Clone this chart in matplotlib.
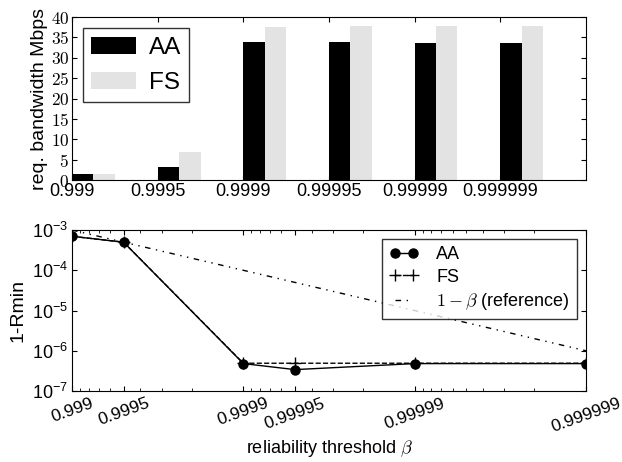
import numpy as np
import matplotlib
matplotlib.use('Agg')
import matplotlib.pyplot as plt
from matplotlib.ticker import FuncFormatter

plt.rcParams['font.family'] = ['Liberation Sans', 'DejaVu Sans']
plt.rcParams['mathtext.fontset'] = 'cm'
plt.rcParams['xtick.direction'] = 'in'
plt.rcParams['ytick.direction'] = 'in'
plt.rcParams['xtick.top'] = True
plt.rcParams['ytick.right'] = True

# data
beta_labels = ['0.999', '0.9995', '0.9999', '0.99995', '0.99999', '0.999999']
beta = [0.999, 0.9995, 0.9999, 0.99995, 0.99999, 0.999999]
bw_aa = [1.5, 3.3, 34.0, 33.8, 33.6, 33.6]
bw_fs = [1.5, 6.8, 37.5, 37.7, 37.7, 37.7]
rmin_aa = [7.0e-4, 5.0e-4, 4.8e-7, 3.4e-7, 4.8e-7, 4.8e-7]
rmin_fs = [7.0e-4, 5.0e-4, 4.9e-7, 4.9e-7, 4.9e-7, 4.9e-7]

one_minus = [1 - b for b in beta]

fig = plt.figure(figsize=(6.22, 4.62), dpi=100)
ax1 = fig.add_axes([0.1158, 0.610, 0.8263, 0.353])
ax2 = fig.add_axes([0.1158, 0.1537, 0.8263, 0.3483])

# bar chart
x = np.arange(len(beta_labels))
w = 0.25
ax1.bar(x, bw_aa, w, align='edge', color='black', edgecolor='none', label='AA')
ax1.bar(x + w, bw_fs, w, align='edge', color='#e3e3e3', edgecolor='none', label='FS')
ax1.set_xlim(0, 6)
ax1.set_ylim(0, 40)
ax1.set_xticks(x)
ax1.set_xticklabels(beta_labels, fontsize=13)
ax1.set_yticks(np.arange(0, 41, 5))
ax1.yaxis.set_major_formatter(FuncFormatter(lambda v, p: '$%d$' % v))
ax1.tick_params(axis='y', labelsize=12.5, pad=2)
ax1.tick_params(axis='x', pad=2)
ax1.set_ylabel('req. bandwidth Mbps', fontsize=14, labelpad=2)
leg = ax1.legend(loc='upper left', fontsize=17.5, handlelength=1.85, handleheight=0.7,
                 fancybox=False, borderpad=0.35, labelspacing=0.55, handletextpad=0.5,
                 borderaxespad=0.45)
leg.get_frame().set_edgecolor('black')

# 1-Rmin plot
ax2.plot(one_minus, rmin_aa, '-o', color='black', lw=1, ms=6.5, label='AA', zorder=3)
ax2.plot(one_minus, rmin_fs, '--+', color='black', lw=1, ms=9, mew=1, label='FS')
ax2.plot(one_minus, one_minus, color='black', lw=1, dashes=(4, 4, 1, 4, 1, 4),
         label=r'$1-\beta$ (reference)')
ax2.set_xscale('log')
ax2.set_yscale('log')
ax2.set_xlim(1e-3, 1e-6)
ax2.set_ylim(1e-7, 1e-3)
ax2.set_yticks([1e-7, 1e-6, 1e-5, 1e-4, 1e-3])
ax2.set_xticks(one_minus)
ax2.set_xticklabels(beta_labels, rotation=20, fontsize=12.5)
ax2.tick_params(axis='y', labelsize=13, pad=3)
ax2.set_ylabel('1-Rmin', fontsize=14)
ax2.set_xlabel(r'reliability threshold $\beta$', fontsize=13, labelpad=2)
leg2 = ax2.legend(loc='upper right', fontsize=13, numpoints=2, handlelength=1.6,
                  fancybox=False, borderpad=0.4, labelspacing=0.3, handletextpad=1.0)
leg2.get_frame().set_edgecolor('black')

fig.savefig('out.png', dpi=100, facecolor='white')
